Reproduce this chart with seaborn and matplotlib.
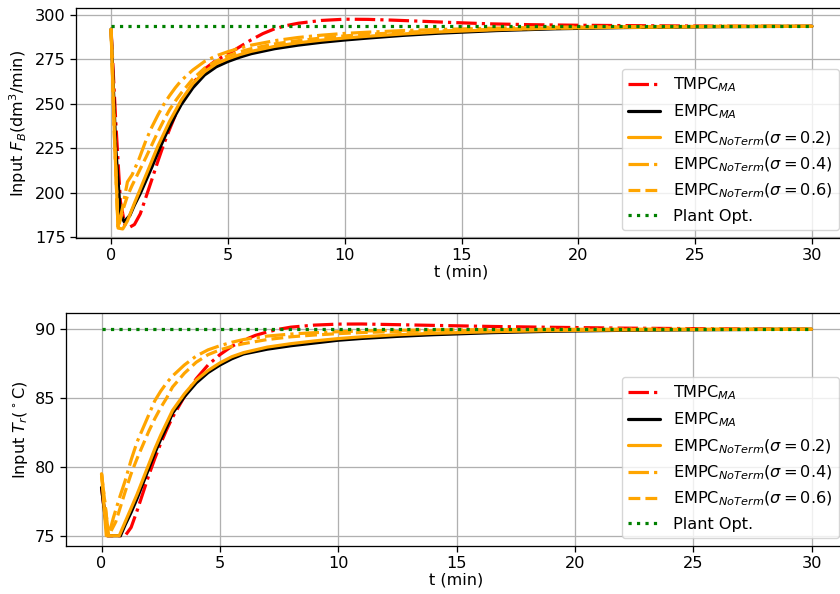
"""
Inputs F_B and T_r for the TMPC / EMPC controllers, two stacked panels.
"""

import matplotlib
matplotlib.use("Agg")
import matplotlib.pyplot as plt
import seaborn as sns

# ---- top panel : F_B (dm3/min) ----
t_tmpc_fb = [0, 0.2, 0.4, 0.6, 0.8, 1.0, 1.25, 1.5, 1.75, 2.0, 2.25, 2.5, 2.75, 3.0, 3.5, 4.0, 4.5,
             5.0, 5.5, 6.0, 6.5, 7.0, 7.5, 8.0, 9.0, 10, 11, 12, 13, 14.5, 16.2, 18, 20, 23, 26, 30]
fb_tmpc = [292, 240, 195, 181, 180.5, 182, 188, 197.7, 207.5, 217.5, 227, 235.5, 243.5, 250.5, 261.5,
           269.5, 274.5, 278, 282, 286, 289.5, 292.2, 294, 295.3, 296.9, 297.6, 297.5, 297.1, 296.6,
           295.8, 295, 294.5, 294.2, 293.9, 293.7, 293.6]

t_empc_fb = [0, 0.2, 0.4, 0.56, 0.8, 1.0, 1.25, 1.5, 1.75, 2.0, 2.25, 2.5, 2.75, 3.0, 3.5, 4.0, 4.5,
             5.0, 5.5, 6.0, 7.0, 8.0, 9.0, 10, 11, 12.5, 14, 16.5, 19, 22, 26, 30]
fb_empc = [292, 225, 188, 183.6, 187, 193, 199.5, 207, 214.5, 222.5, 230, 237, 243.5, 249.5, 259,
           266.2, 270.8, 273.8, 276.2, 278.2, 281, 283, 284.6, 285.9, 287, 288.5, 289.7, 291.2,
           292.2, 292.9, 293.4, 293.6]

t_s02_fb = [0, 0.15, 0.3, 0.5, 0.7, 1.0, 1.25, 1.5, 1.75, 2.0, 2.25, 2.5, 2.75, 3.0, 3.5, 4.0, 4.5,
            5.0, 5.5, 6.0, 7, 8, 9, 10, 11, 12.5, 14, 16.5, 19, 22, 26, 30]
fb_s02 = [292, 230, 180, 179.5, 184, 194, 202, 210, 218, 226, 233, 240, 246, 252, 261.3, 268, 272.5,
          275.3, 277.6, 279.5, 282.3, 284.3, 285.8, 287, 288, 289.3, 290.4, 291.7, 292.6, 293.1,
          293.5, 293.6]

t_s04_fb = [0, 0.15, 0.3, 0.5, 0.7, 0.9, 1.2, 1.5, 1.75, 2.0, 2.25, 2.5, 2.75, 3.0, 3.5, 4.0, 4.5,
            5.0, 5.5, 6.0, 7, 8, 9, 10, 11, 12.5, 14, 16.5, 19, 22, 26, 30]
fb_s04 = [292, 230, 180, 192, 206, 210, 219, 229.6, 237, 243.5, 249.5, 254.5, 259, 263, 269, 273.8,
          277, 279.3, 281.3, 283, 285.5, 287.3, 288.6, 289.6, 290.3, 291.2, 291.8, 292.6, 293.1,
          293.4, 293.6, 293.6]

t_s06_fb = [0, 0.15, 0.3, 0.5, 0.7, 0.9, 1.2, 1.5, 1.75, 2.0, 2.25, 2.5, 2.75, 3.0, 3.5, 4.0, 4.5,
            5.0, 5.5, 6.0, 7, 8, 9, 10, 11, 12.5, 14, 16.5, 19, 22, 26, 30]
fb_s06 = [292, 230, 180, 190, 198, 204, 212, 220, 227, 234, 240.5, 246.5, 251.5, 256, 264, 270, 274,
          277, 279.2, 281, 283.7, 285.5, 287, 288.2, 289.1, 290.2, 291, 291.9, 292.6, 293.1, 293.5,
          293.6]

t_opt = [0, 30]
fb_opt = [293.6, 293.6]

# ---- bottom panel : T_r (deg C) ----
t_tmpc_tr = [0, 0.25, 0.6, 1.0, 1.25, 1.5, 1.75, 2.0, 2.25, 2.5, 2.75, 3.0, 3.5, 4.0, 4.5, 5.0, 5.5,
             6.0, 6.5, 7.0, 7.5, 8.0, 9.0, 10, 11, 12.5, 14, 16.5, 19, 22, 26, 30]
tr_tmpc = [78.5, 75, 75, 75, 75.6, 76.8, 78.1, 79.4, 80.6, 81.7, 82.7, 83.6, 85.1, 86.4, 87.4, 88.15,
           88.75, 89.2, 89.55, 89.8, 90.0, 90.15, 90.3, 90.37, 90.38, 90.33, 90.28, 90.2, 90.14,
           90.08, 90.03, 90.0]

t_empc_tr = [0, 0.25, 0.8, 1.0, 1.25, 1.5, 1.75, 2.0, 2.25, 2.5, 2.75, 3.0, 3.5, 4.0, 4.5, 5.0, 5.5,
             6.0, 7, 8, 9, 10, 11, 12.5, 14, 16.5, 19, 22, 26, 30]
tr_empc = [78.5, 75, 75, 75.8, 76.7, 77.7, 78.8, 79.9, 81.0, 82.0, 82.9, 83.9, 85.1, 86.1, 86.85,
           87.4, 87.85, 88.2, 88.55, 88.8, 89.0, 89.2, 89.33, 89.48, 89.6, 89.75, 89.85, 89.92,
           89.97, 90.0]

t_s02_tr = [0, 0.2, 0.75, 1.0, 1.25, 1.5, 1.75, 2.0, 2.25, 2.5, 2.75, 3.0, 3.5, 4.0, 4.5, 5.0, 5.5,
            6.0, 7, 8, 9, 10, 11, 12.5, 14, 16.5, 19, 22, 26, 30]
tr_s02 = [79.5, 75, 75, 76.0, 77.0, 78.0, 79.1, 80.2, 81.3, 82.3, 83.2, 84.1, 85.3, 86.3, 87.0, 87.55,
          88.0, 88.3, 88.7, 88.95, 89.15, 89.32, 89.45, 89.6, 89.7, 89.82, 89.9, 89.95, 89.98, 90.0]

t_s04_tr = [0, 0.3, 0.5, 0.75, 1.0, 1.25, 1.5, 1.75, 2.0, 2.25, 2.5, 2.75, 3.0, 3.5, 4.0, 4.5, 5.0,
            5.5, 6.0, 7, 8, 9, 10, 11, 12.5, 14, 16.5, 19, 22, 30]
tr_s04 = [79.5, 75, 76.3, 77.7, 79.0, 80.5, 81.8, 82.8, 83.8, 84.8, 85.5, 86.1, 86.6, 87.4, 88.05,
          88.5, 88.8, 89.05, 89.25, 89.5, 89.65, 89.75, 89.82, 89.87, 89.92, 89.95, 89.97, 89.99,
          90.0, 90.0]

t_s06_tr = [0, 0.3, 0.6, 1.0, 1.25, 1.5, 1.75, 2.0, 2.25, 2.5, 2.75, 3.0, 3.5, 4.0, 4.5, 5.0, 5.5,
            6.0, 7, 8, 9, 10, 11, 12.5, 14, 16.5, 19, 22, 30]
tr_s06 = [79.5, 75, 76.0, 78.2, 79.5, 80.6, 81.6, 82.6, 83.5, 84.3, 85.0, 85.8, 86.8, 87.6, 88.15,
          88.5, 88.75, 88.95, 89.25, 89.45, 89.58, 89.68, 89.76, 89.83, 89.88, 89.93, 89.96, 89.98,
          90.0]

tr_opt = [90, 90]

labels = [r"TMPC$_{MA}$", r"EMPC$_{MA}$",
          r"EMPC$_{NoTerm}(\sigma=0.2)$", r"EMPC$_{NoTerm}(\sigma=0.4)$",
          r"EMPC$_{NoTerm}(\sigma=0.6)$", "Plant Opt."]
colors = ["red", "black", "orange", "orange", "orange", "green"]
styles = ["-.", "-", "-", "-.", "--", ":"]

sns.set_style("ticks", {"axes.grid": True, "grid.color": "#b0b0b0",
                        "axes.edgecolor": "black", "text.color": "black",
                        "axes.labelcolor": "black", "xtick.color": "black",
                        "ytick.color": "black"})
plt.rcParams["font.family"] = ["DejaVu Sans"]
plt.rcParams["mathtext.fontset"] = "dejavusans"
fs = 11.6
plt.rcParams.update({"font.size": fs, "axes.labelsize": fs, "xtick.labelsize": fs,
                     "ytick.labelsize": fs, "legend.fontsize": fs,
                     "grid.linewidth": 0.93, "axes.linewidth": 0.93,
                     "xtick.major.size": 4, "ytick.major.size": 4,
                     "xtick.major.width": 0.93, "ytick.major.width": 0.93})

fig = plt.figure(figsize=(8.4, 5.94), dpi=100)
ax1 = fig.add_axes([0.0905, 0.5993, 0.9179, 0.3872])
ax2 = fig.add_axes([0.0786, 0.0808, 0.9298, 0.3923])

top = [(t_tmpc_fb, fb_tmpc), (t_empc_fb, fb_empc), (t_s02_fb, fb_s02),
       (t_s04_fb, fb_s04), (t_s06_fb, fb_s06), (t_opt, fb_opt)]
bottom = [(t_tmpc_tr, tr_tmpc), (t_empc_tr, tr_empc), (t_s02_tr, tr_s02),
          (t_s04_tr, tr_s04), (t_s06_tr, tr_s06), (t_opt, tr_opt)]

for ax, series in [(ax1, top), (ax2, bottom)]:
    for (x, y), lab, c, ls in zip(series, labels, colors, styles):
        sns.lineplot(x=x, y=y, ax=ax, color=c, linestyle=ls, linewidth=2.3,
                     label=lab, estimator=None, sort=False)
    ax.set_xlim(-1.5, 31.5)
    ax.set_xticks([0, 5, 10, 15, 20, 25, 30])
    ax.set_xlabel("t (min)", labelpad=1)
    ax.legend(loc="lower right", framealpha=0.8, edgecolor="0.8", fancybox=True)

ax1.set_ylim(174.4, 303.9)
ax1.set_yticks([175, 200, 225, 250, 275, 300])
ax1.set_ylabel(r"Input $F_B$(dm$^3$/min)")

ax2.set_ylim(74.25, 91.18)
ax2.set_yticks([75, 80, 85, 90])
ax2.set_ylabel(r"Input $T_r$($^\circ$C)")

fig.savefig("out.png", dpi=100)
